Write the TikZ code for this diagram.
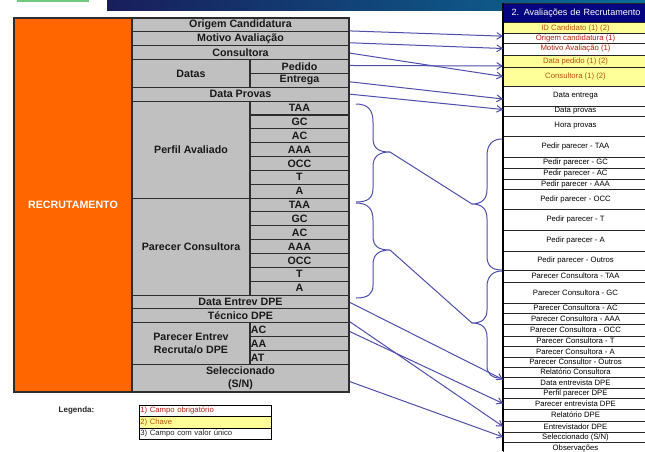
\documentclass[tikz,border=0pt]{standalone}
\usepackage{fontspec}
\setmainfont{Liberation Sans}
\usetikzlibrary{arrows.meta,calc}

\definecolor{recorange}{RGB}{255,102,0}
\definecolor{cellgray}{RGB}{192,192,192}
\definecolor{gridline}{RGB}{45,45,45}
\definecolor{keyyellow}{RGB}{255,255,153}
\definecolor{headnavy}{RGB}{4,4,128}
\definecolor{linkblue}{RGB}{78,78,172}
\definecolor{mandred}{RGB}{180,35,10}
\definecolor{keybrown}{RGB}{185,80,10}
\definecolor{bardark}{RGB}{24,30,92}
\definecolor{barlight}{RGB}{10,110,152}
\definecolor{tabgreen}{RGB}{110,200,125}

% left table: one row unit is 13.852 px, first row at y = 18
\newcommand\lbox[7][]{%
  \node[lcell,#1,anchor=north west,
        minimum width={((#5)-(#3))*0.75pt},
        minimum height={((#6)-(#4))*13.852*0.75pt}]
        (#2) at (#3,{18+(#4)*13.852}) {#7};}
% right table: rows given by their top and bottom y
\newcommand\rbox[5][]{%
  \node[rcell,#1,anchor=north west,
        minimum width={145*0.75pt},
        minimum height={((#4)-(#3))*0.75pt}]
        (#2) at (503,#3) {#5};}
% legend rows
\newcommand\legbox[5][]{%
  \node[legcell,#1,anchor=north west,
        minimum height={((#4)-(#3))*0.75pt}]
        (#2) at (139,#3) {#5};}

\tikzset{
  lcell/.style={draw=gridline, line width=0.8pt, fill=cellgray, inner sep=0pt,
    outer sep=0pt, font=\fontsize{8}{10.2}\selectfont\bfseries, text=black!90, align=center},
  subleft/.style={text width=73pt, inner xsep=0.6pt, align=left},
  rcell/.style={draw=black!85, line width=0.6pt, fill=white, inner sep=0pt,
    outer sep=0pt, font=\fontsize{5.8}{7}\selectfont, text=black, align=center},
  keyrow/.style={fill=keyyellow, text=keybrown},
  mand/.style={text=mandred},
  legcell/.style={draw=black, line width=0.6pt, fill=white, inner ysep=0pt,
    inner xsep=1pt, outer sep=0pt, text width=97pt, minimum width=99pt,
    align=left, font=\fontsize{5.8}{7}\selectfont},
  link/.style={draw=linkblue, line width=0.75pt, -{Straight Barb[length=4pt,width=5pt]}},
  brace/.style={draw=linkblue, line width=0.75pt},
}

\begin{document}
\begin{tikzpicture}[x=0.75pt,y=-0.75pt]
\useasboundingbox (0,0) rectangle (645,451);
\clip (0,0) rectangle (645,451);
\fill[white] (0,0) rectangle (645,451);

% page banner
\fill[tabgreen] (17,0) rectangle (89,1.8);
\shade[left color=bardark, right color=barlight] (107,0) rectangle (645,10);

% ---------------- left table ----------------
\lbox[fill=recorange,text=white]{recr}{14}{0}{132}{27}{RECRUTAMENTO}
\lbox{origem}{132}{0}{349}{1}{Origem Candidatura}
\lbox{motivo}{132}{1}{349}{2}{Motivo Avaliação}
\lbox{consult}{132}{2}{349}{3}{Consultora}
\lbox{datas}{132}{3}{250}{5}{Datas}
\lbox{pedido}{250}{3}{349}{4}{Pedido}
\lbox{entrega}{250}{4}{349}{5}{Entrega}
\lbox{dprovas}{132}{5}{349}{6}{Data Provas}
\lbox{perfil}{132}{6}{250}{13}{Perfil Avaliado}
\foreach \lab [count=\i from 0] in {TAA,GC,AC,AAA,OCC,T,A}
  \lbox{pa\i}{250}{6+\i}{349}{7+\i}{\lab};
\lbox{parecer}{132}{13}{250}{20}{Parecer Consultora}
\foreach \lab [count=\i from 0] in {TAA,GC,AC,AAA,OCC,T,A}
  \lbox{pc\i}{250}{13+\i}{349}{14+\i}{\lab};
\lbox{dentrev}{132}{20}{349}{21}{Data Entrev DPE}
\lbox{tecnico}{132}{21}{349}{22}{Técnico DPE}
\lbox{pentrev}{132}{22}{250}{25}{Parecer Entrev\\Recruta/o DPE}
\lbox[subleft]{peac}{250}{22}{349}{23}{AC}
\lbox[subleft]{peaa}{250}{23}{349}{24}{AA}
\lbox[subleft]{peat}{250}{24}{349}{25}{AT}
\lbox{selec}{132}{25}{349}{27}{Seleccionado\\(S/N)}
\draw[gridline, line width=1.3pt] (14,18) rectangle (349,392);

% ---------------- legend ----------------
\node[anchor=west, font=\fontsize{6}{7}\selectfont\bfseries, text=black!85]
  (legtitle) at (54,410.5) {Legenda:};
\legbox[text=mandred]{leg1}{405}{416.5}{1) Campo obrigatório}
\legbox[fill=keyyellow,text=keybrown]{leg2}{416.5}{428}{2) Chave}
\legbox[text=black!85]{leg3}{428}{439.5}{3) Campo com valor único}

% ---------------- right table ----------------
\node[rcell, fill=headnavy, text=white, anchor=north west, align=left,
      minimum width={145*0.75pt}, minimum height={19.7*0.75pt},
      text width={145*0.75pt}, font=\fontsize{6.8}{8}\selectfont]
  (rhead) at (503,3) {\hspace*{6.5pt}2. Avaliações de Recrutamento};
\rbox[keyrow]{rid}{22.7}{33.3}{ID Candidato (1) (2)}
\rbox[mand]{rorigem}{33.3}{43}{Origem candidatura (1)}
\rbox[mand]{rmotivo}{43}{55}{Motivo Avaliação (1)}
\rbox[keyrow]{rdped}{55}{67}{Data pedido (1) (2)}
\rbox[keyrow]{rconsult}{67}{86}{Consultora (1) (2)}
\rbox{rdent}{86}{106}{Data entrega}
\rbox{rdprov}{106}{116}{Data provas}
\rbox{rhprov}{116}{136}{Hora provas}
\rbox{pp1}{136}{157}{Pedir parecer - TAA}
\rbox{pp2}{157}{168}{Pedir parecer - GC}
\rbox{pp3}{168}{179}{Pedir parecer - AC}
\rbox{pp4}{179}{189}{Pedir parecer - AAA}
\rbox{pp5}{189}{209}{Pedir parecer - OCC}
\rbox{pp6}{209}{230}{Pedir parecer - T}
\rbox{pp7}{230}{251}{Pedir parecer - A}
\rbox{pp8}{251}{270}{Pedir parecer - Outros}
\rbox{rc1}{270}{282}{Parecer Consultora - TAA}
\rbox{rc2}{282}{303}{Parecer Consultora - GC}
\rbox{rc3}{303}{313}{Parecer Consultora - AC}
\rbox{rc4}{313}{324}{Parecer Consultora - AAA}
\rbox{rc5}{324}{336}{Parecer Consultora - OCC}
\rbox{rc6}{336}{346}{Parecer Consultora - T}
\rbox{rc7}{346}{357}{Parecer Consultora - A}
\rbox{rc8}{357}{367}{Parecer Consultor - Outros}
\rbox{rrelc}{367}{377}{Relatório Consultora}
\rbox{rdentrev}{377}{388}{Data entrevista DPE}
\rbox{rperfil}{388}{398}{Perfil parecer DPE}
\rbox{rpentrev}{398}{409}{Parecer entrevista DPE}
\rbox{rreldpe}{409}{421}{Relatório DPE}
\rbox{rentrev}{421}{432}{Entrevistador DPE}
\rbox{rselec}{432}{442}{Seleccionado (S/N)}
\rbox{robs}{442}{456}{Observações}
\draw[black, line width=1.3pt] (503,3) -- (503,451);

% ---------------- field links ----------------
\draw[link] ([shift={(1,6)}]origem.east)    -- ([shift={(0,-2)}]rorigem.west);
\draw[link] ([shift={(1,4)}]motivo.east)    -- ([shift={(0,-0.5)}]rmotivo.west);
\draw[link] ([shift={(1,0.5)}]consult.east) -- (rconsult.west);
\draw[link] ([shift={(1,-1)}]pedido.east)   -- ([shift={(0,5)}]rdped.west);
\draw[link] ([shift={(1,1.5)}]entrega.east) -- ([shift={(0,3)}]rdent.west);
\draw[link] ([shift={(1,0)}]dprovas.east)   -- ([shift={(0,-1.5)}]rdprov.west);
\draw[link] ([shift={(1,0.5)}]dentrev.east) -- ([shift={(0,-3)}]rdentrev.west);
\draw[link] ([shift={(1,6)}]tecnico.east)   -- (rentrev.west);
\draw[link] ([shift={(1,2)}]peac.east)      -- (rpentrev.west);
\draw[link] ([shift={(1,3.5)}]selec.east)   -- (rselec.west);

% ---------------- group braces ----------------
\coordinate (tipPerfil)  at (390,152);
\coordinate (tipParecer) at (390,250);
\coordinate (tipPedir)   at (472,204);
\coordinate (tipPcons)   at (472,323);
% closing braces over the two groups of the left table
\draw[brace] (356,104) .. controls (368,104) and (373,110) .. (373,122)
  -- (373,138) .. controls (373,148) and (378,152) .. (tipPerfil)
  .. controls (378,152) and (373,157) .. (373,167)
  -- (373,188) .. controls (373,198) and (368,202) .. (356,202);
\draw[brace] (356,203) .. controls (368,203) and (373,209) .. (373,220)
  -- (373,236) .. controls (373,246) and (378,250) .. (tipParecer)
  .. controls (378,250) and (373,255) .. (373,265)
  -- (373,285) .. controls (373,294) and (368,298) .. (356,298);
% opening braces before the two groups of the right table
\draw[brace] (502,139) .. controls (492,139) and (487,145) .. (487,156)
  -- (487,189) .. controls (487,199) and (482,204) .. (tipPedir)
  .. controls (482,204) and (487,209) .. (487,219)
  -- (487,256) .. controls (487,266) and (492,270) .. (502,270);
\draw[brace] (502,271) .. controls (492,271) and (487,277) .. (487,287)
  -- (487,310) .. controls (487,319) and (482,323) .. (tipPcons)
  .. controls (482,323) and (487,328) .. (487,337)
  -- (487,366) .. controls (487,374) and (492,378) .. (500,378);
\draw[brace] (tipPerfil) -- (tipPedir);
\draw[brace] (tipParecer) -- (tipPcons);
\end{tikzpicture}
\end{document}
